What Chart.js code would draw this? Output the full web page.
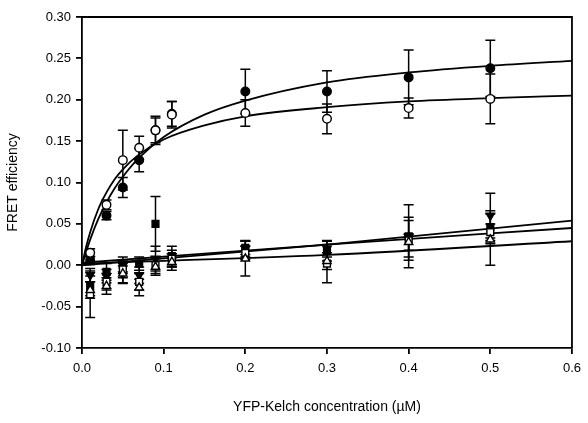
<!DOCTYPE html>
<html>
<head>
<meta charset="utf-8">
<script src="https://cdn.jsdelivr.net/npm/chart.js@4"></script>
<style>
  html, body { margin: 0; padding: 0; background: #fff; }
</style>
</head>
<body>
<canvas id="fretChart" width="588" height="423"></canvas>
<script>
// YFP-Kelch concentrations (uM) for the measured points
const conc = [0.01, 0.03, 0.05, 0.07, 0.09, 0.11, 0.2, 0.3, 0.4, 0.5];

// FRET efficiency, upper (binding) series
const filledCircle    = [0.006, 0.060, 0.094, 0.127, 0.163, 0.183, 0.210, 0.210, 0.227, 0.238];
const filledCircleErr = [0.005, 0.005, 0.012, 0.014, 0.015, 0.015, 0.027, 0.025, 0.033, 0.034];
const openCircle      = [0.015, 0.073, 0.127, 0.142, 0.163, 0.182, 0.184, 0.177, 0.190, 0.201];
const openCircleErr   = [0.005, 0.006, 0.036, 0.014, 0.017, 0.016, 0.016, 0.018, 0.012, 0.030];

// FRET efficiency, lower (control) series
const filledSquare    = [-0.025, -0.008, 0.000, 0.002, 0.050, 0.011, 0.021, 0.017, 0.035, 0.046];
const filledSquareErr = [0.012, 0.010, 0.010, 0.008, 0.033, 0.012, 0.008, 0.012, 0.038, 0.020];
const filledTriDown   = [-0.012, -0.013, -0.011, -0.012, 0.008, 0.006, 0.020, 0.020, 0.034, 0.060];
const filledTriErr    = [0.008, 0.008, 0.010, 0.010, 0.015, 0.008, 0.010, 0.010, 0.024, 0.027];
const openSquare      = [-0.035, -0.020, -0.005, -0.020, 0.000, 0.008, 0.015, 0.002, 0.030, 0.040];
const openSquareErr   = [0.028, 0.010, 0.010, 0.010, 0.010, 0.010, 0.008, 0.023, 0.024, 0.010];
const openTriUp       = [-0.030, -0.025, -0.010, -0.027, -0.002, 0.004, 0.008, 0.005, 0.028, 0.031];
const openTriErr      = [0.010, 0.010, 0.012, 0.010, 0.010, 0.010, 0.021, 0.010, 0.010, 0.031];

// fitted curves
const fitConc   = [0, 0.005, 0.01, 0.02, 0.03, 0.04, 0.05, 0.07, 0.1, 0.15, 0.2, 0.3, 0.4, 0.5, 0.6];
const fitFilled = [0, 0.016, 0.031, 0.056, 0.076, 0.093, 0.107, 0.130, 0.155, 0.182, 0.199, 0.221, 0.233, 0.241, 0.247];
const fitOpen   = [0, 0.022, 0.040, 0.068, 0.088, 0.104, 0.116, 0.134, 0.152, 0.169, 0.180, 0.191, 0.198, 0.202, 0.205];

const lineConc   = [0, 0.3, 0.6];
const lineTri    = [0.000, 0.025, 0.054];
const lineSquare = [0.003, 0.025, 0.045];
const lineOpen   = [0.002, 0.0125, 0.029];

const xTicks = [0, 0.1, 0.2, 0.3, 0.4, 0.5, 0.6];

function pts(xs, ys) {
    return xs.map((x, i) => ({ x: x, y: ys[i] }));
}

function markers(vals, errs, style, filled, rotation) {
    return {
        type: 'scatter',
        data: pts(conc, vals),
        errors: errs,
        pointStyle: style,
        rotation: rotation || 0,
        pointRadius: style === 'circle' ? 4.3 : 4.8,
        backgroundColor: filled ? '#000' : '#fff',
        borderColor: '#000',
        borderWidth: 1.4,
        order: 1
    };
}

function fitLine(xs, ys) {
    return {
        type: 'line',
        data: pts(xs, ys),
        borderColor: '#000',
        borderWidth: 1.8,
        pointRadius: 0,
        fill: false,
        cubicInterpolationMode: 'monotone',
        order: 10
    };
}

// error bars drawn through the chart's own scales
const errorBars = {
    id: 'errorBars',
    beforeDatasetsDraw(chart) {
        const { ctx, scales: { x, y } } = chart;
        ctx.save();
        ctx.strokeStyle = '#000';
        ctx.lineWidth = 1.5;
        chart.data.datasets.forEach(ds => {
            if (!ds.errors) return;
            ds.data.forEach((p, i) => {
                const px = x.getPixelForValue(p.x);
                const top = y.getPixelForValue(p.y + ds.errors[i]);
                const bot = y.getPixelForValue(p.y - ds.errors[i]);
                ctx.beginPath();
                ctx.moveTo(px, top); ctx.lineTo(px, bot);
                ctx.moveTo(px - 5, top); ctx.lineTo(px + 5, top);
                ctx.moveTo(px - 5, bot); ctx.lineTo(px + 5, bot);
                ctx.stroke();
            });
        });
        ctx.restore();
    }
};

// top and right frame lines
const frame = {
    id: 'frame',
    afterDraw(chart) {
        const { ctx, chartArea: a } = chart;
        ctx.save();
        ctx.strokeStyle = '#000';
        ctx.lineWidth = 1.8;
        ctx.beginPath();
        ctx.moveTo(a.left, a.top);
        ctx.lineTo(a.right, a.top);
        ctx.lineTo(a.right, a.bottom);
        ctx.stroke();
        ctx.restore();
    }
};

Chart.defaults.font.family = 'Arial, "Liberation Sans", sans-serif';
Chart.defaults.color = '#000';

const ctx = document.getElementById('fretChart').getContext('2d');
new Chart(ctx, {
    type: 'scatter',
    data: {
        datasets: [
            fitLine(fitConc, fitFilled),
            fitLine(fitConc, fitOpen),
            fitLine(lineConc, lineTri),
            fitLine(lineConc, lineSquare),
            fitLine(lineConc, lineOpen),
            markers(openTriUp, openTriErr, 'triangle', false),
            markers(openSquare, openSquareErr, 'rect', false),
            markers(filledTriDown, filledTriErr, 'triangle', true, 180),
            markers(filledSquare, filledSquareErr, 'rect', true),
            markers(openCircle, openCircleErr, 'circle', false),
            markers(filledCircle, filledCircleErr, 'circle', true)
        ]
    },
    options: {
        responsive: false,
        animation: false,
        layout: { padding: { left: 0, right: 16, top: 17, bottom: 0 } },
        plugins: {
            legend: { display: false },
            tooltip: { enabled: false }
        },
        scales: {
            x: {
                type: 'linear',
                min: 0,
                max: 0.6,
                afterBuildTicks: axis => { axis.ticks = xTicks.map(v => ({ value: v })); },
                afterFit: axis => { axis.height = 75; },
                ticks: {
                    font: { size: 13 },
                    padding: 7,
                    callback: v => v.toFixed(1)
                },
                grid: { drawOnChartArea: false, drawTicks: true, tickLength: 6, color: '#000', lineWidth: 1.8 },
                border: { display: true, color: '#000', width: 1.8 },
                title: {
                    display: true,
                    text: 'YFP-Kelch concentration (µM)',
                    font: { size: 14 },
                    padding: { top: 4, bottom: 7 }
                }
            },
            y: {
                min: -0.1,
                max: 0.3,
                afterFit: axis => { axis.width = 82; },
                ticks: {
                    stepSize: 0.05,
                    font: { size: 13 },
                    padding: 5,
                    callback: v => v.toFixed(2)
                },
                grid: { drawOnChartArea: false, drawTicks: true, tickLength: 6, color: '#000', lineWidth: 1.8 },
                border: { display: true, color: '#000', width: 1.8 },
                title: {
                    display: true,
                    text: 'FRET efficiency',
                    font: { size: 14 },
                    padding: { top: 5, bottom: 2 }
                }
            }
        }
    },
    plugins: [errorBars, frame]
});
</script>
</body>
</html>
